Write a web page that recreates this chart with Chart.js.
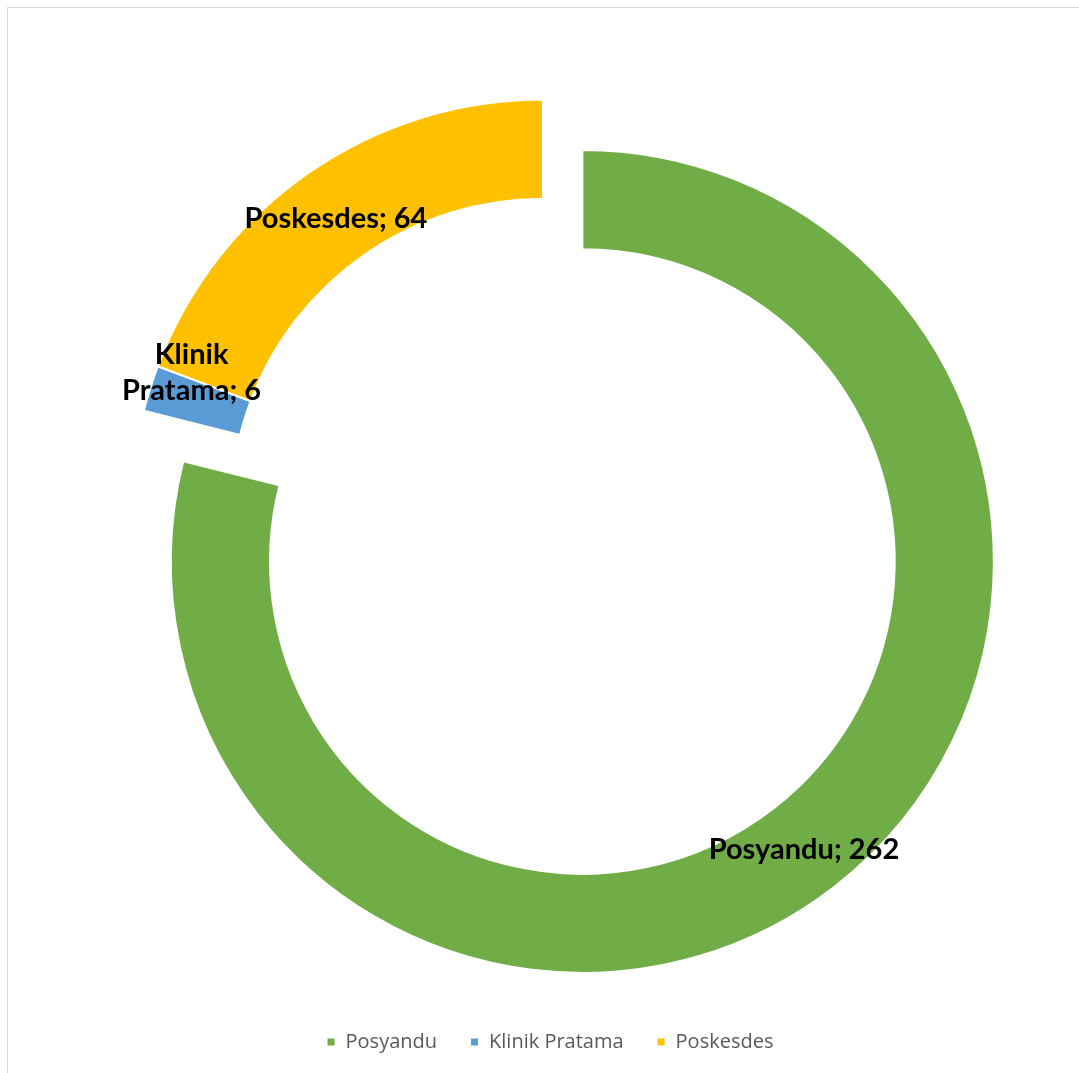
<!DOCTYPE html>
<html>
<head>
<meta charset="utf-8">
<script src="https://cdn.jsdelivr.net/npm/chart.js@4.4.1/dist/chart.umd.min.js"></script>
<style>
  html, body { margin: 0; padding: 0; background: #fff; overflow: hidden; }
  #wrap { position: relative; width: 1079px; height: 1073px; }
  #frame { position: absolute; left: 7px; top: 7px; width: 1200px; height: 1200px;
           border-top: 1px solid #d9d9d9; border-left: 1px solid #d9d9d9; }
  canvas { position: absolute; left: 0; top: 0; }
</style>
</head>
<body>
<div id="wrap">
  <div id="frame"></div>
  <canvas id="chart"></canvas>
</div>
<script>
const categories = ['Posyandu', 'Klinik Pratama', 'Poskesdes'];
const values = [262, 6, 64];
const sliceColors = ['#70AD47', '#5B9BD5', '#FFC000'];
// how far each slice is pulled out from the centre (px); only Posyandu is exploded
const explode = [64, 0, 0];

// label nudges (px) so the small slice label doesn't sit on the slice
const labelNudge = [[-1, 2], [-6, -32], [-1, 4]];

function midAngle(arc) {
  const p = arc.getProps(['startAngle', 'endAngle'], true);
  return (p.startAngle + p.endAngle) / 2;
}

// Chart.js "offset" also grows the radius of an arc, so the explosion is done here instead
const explodeSlices = {
  id: 'explodeSlices',
  afterLayout(chart) {
    // legend sits a bit right of the ring centre in the original
    chart.legend.left += 7;
    chart.legend.right += 7;
  },
  beforeDatasetDraw(chart, args) {
    const ctx = chart.ctx;
    args.meta.data.forEach((arc, i) => {
      const a = midAngle(arc);
      ctx.save();
      ctx.translate(Math.cos(a) * explode[i], Math.sin(a) * explode[i]);
      arc.draw(ctx, chart.chartArea);
      ctx.restore();
    });
    return false;
  },
  afterDatasetsDraw(chart) {
    const ctx = chart.ctx;
    const meta = chart.getDatasetMeta(0);
    const size = 29;
    const half = size * 0.36; // half the cap height, to centre text on the point
    ctx.save();
    ctx.font = 'bold ' + size + 'px Lato';
    ctx.fillStyle = '#000';
    ctx.textAlign = 'center';
    ctx.textBaseline = 'alphabetic';
    meta.data.forEach((arc, i) => {
      const p = arc.getProps(['x', 'y', 'innerRadius', 'outerRadius'], true);
      const a = midAngle(arc);
      const r = (p.innerRadius + p.outerRadius) / 2 + explode[i];
      const x = p.x + Math.cos(a) * r + labelNudge[i][0];
      const y = p.y + Math.sin(a) * r + labelNudge[i][1] + half;
      if (i === 1) {
        ctx.fillText('Klinik', x, y - 18);
        ctx.fillText('Pratama; ' + values[i], x, y + 18);
      } else {
        ctx.fillText(categories[i] + '; ' + values[i], x, y);
      }
    });
    ctx.restore();
  }
};

const canvas = document.getElementById('chart');
canvas.width = 1079;
canvas.height = 1073;

new Chart(canvas.getContext('2d'), {
  type: 'doughnut',
  data: {
    labels: categories,
    datasets: [{
      data: values,
      backgroundColor: sliceColors,
      borderColor: '#ffffff',
      borderWidth: 2
    }]
  },
  options: {
    responsive: false,
    animation: false,
    radius: 411.5,
    cutout: '75.9%',
    layout: { padding: { left: 24, right: 17, top: 23, bottom: 11 } },
    plugins: {
      tooltip: { enabled: false },
      legend: {
        display: true,
        position: 'bottom',
        labels: {
          boxWidth: 9,
          boxHeight: 9,
          padding: 33,
          color: '#595959',
          font: { family: '"Open Sans"', size: 20 }
        }
      }
    }
  },
  plugins: [explodeSlices]
});
</script>
</body>
</html>
